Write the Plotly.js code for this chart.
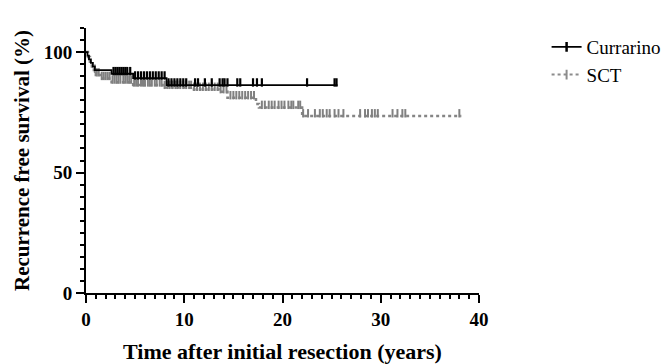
<!DOCTYPE html>
<html>
<head>
<meta charset="utf-8">
<script src="https://cdn.plot.ly/plotly-3.0.1.min.js"></script>
<style>html,body{margin:0;padding:0;background:#fff;}#chart{width:670px;height:364px;}</style>
</head>
<body>
<div id="chart"></div>
<script>
// Kaplan-Meier step curves (time in years, survival in %)
const currarinoTimes = [0, 0.15, 0.3, 0.5, 0.7, 0.9, 2.6, 4.8, 8.2, 25.6];
const currarinoSurv  = [100, 98.5, 97, 95.5, 94, 92.5, 91, 89.2, 86.3, 86.3];
const currarinoCensor = [2.8, 3.0, 3.2, 3.4, 3.6, 3.8, 4.0, 4.2, 4.5, 5.0, 5.3, 5.6, 5.9, 6.2, 6.5, 6.8, 7.1, 7.4, 7.7, 8.0,
  8.4, 8.7, 9.0, 9.3, 9.6, 9.9, 10.2, 11.1, 11.4, 12.1, 12.8, 13.6, 13.9, 14.1, 14.4, 15.4, 15.7, 17.0, 17.4, 17.9, 22.5, 25.3, 25.5];

const sctTimes = [0, 0.2, 0.4, 0.6, 0.8, 1.0, 1.5, 2.6, 4.8, 7.8, 10.8, 13.6, 14.4, 17.3, 17.6, 22.0, 38.2];
const sctSurv  = [100, 98, 96, 94, 92, 90.5, 89, 87.5, 86.3, 85.3, 84.5, 83.5, 81, 78.5, 77, 73.5, 73.5];
const sctCensor = [0.9, 1.1, 1.3, 1.6, 1.8, 2.0, 2.2, 2.4, 2.7, 2.9, 3.1, 3.3, 3.5, 3.8, 4.0, 4.2, 4.4, 4.6, 4.9, 5.1,
  5.3, 5.6, 5.8, 6.0, 6.3, 6.5, 6.7, 7.0, 7.2, 7.5, 7.7, 8.0, 8.3, 8.5, 8.8, 9.1, 9.3, 9.6, 9.9, 10.2, 10.5, 10.7,
  11.0, 11.3, 11.6, 11.9, 12.2, 12.5, 12.8, 13.1, 13.4, 13.7, 14.0, 14.3, 14.7, 15.0, 15.3, 15.6, 15.9, 16.2, 16.5,
  16.8, 17.1, 17.9, 18.2, 18.6, 18.9, 19.2, 19.6, 19.9, 20.2, 20.6, 20.9, 21.1, 21.6, 21.8,
  22.1, 22.6, 23.3, 23.8, 24.1, 24.5, 24.8, 25.3, 25.7, 26.2, 27.9, 28.4, 28.7, 29.1, 29.4, 29.7, 31.2, 31.7, 32.2, 32.5, 38.0];

const seriesNames = ['Currarino', 'SCT'];
const xTickVals = [0, 10, 20, 30, 40];
const yTickVals = [0, 50, 100];

function stepAt(times, surv, t) {
  let v = surv[0];
  for (let i = 0; i < times.length; i++) { if (times[i] <= t) v = surv[i]; }
  return v;
}
const tickLift = 1.1; // censor ticks sit on top of the curve
const font = 'Liberation Serif, Times New Roman, serif';

const traces = [
  {x: sctTimes, y: sctSurv, mode: 'lines', line: {shape: 'hv', color: '#858585', width: 2.5, dash: 'dot'}, showlegend: false, hoverinfo: 'skip'},
  {x: sctCensor, y: sctCensor.map(t => stepAt(sctTimes, sctSurv, t) + tickLift), mode: 'markers',
   marker: {symbol: 'line-ns-open', size: 6, color: '#808080', line: {color: '#808080', width: 2}}, showlegend: false, hoverinfo: 'skip'},
  {x: currarinoTimes, y: currarinoSurv, mode: 'lines', line: {shape: 'hv', color: '#000', width: 1.8}, showlegend: false, hoverinfo: 'skip'},
  {x: currarinoCensor, y: currarinoCensor.map(t => stepAt(currarinoTimes, currarinoSurv, t) + tickLift), mode: 'markers',
   marker: {symbol: 'line-ns-open', size: 6, color: '#000', line: {color: '#000', width: 2.2}}, showlegend: false, hoverinfo: 'skip'},
  {x: [null], y: [null], name: seriesNames[0], mode: 'lines+markers', line: {color: '#000', width: 1.8},
   marker: {symbol: 'line-ns-open', size: 7, line: {color: '#000', width: 2.5}}},
  {x: [null], y: [null], name: seriesNames[1], mode: 'lines+markers', line: {color: '#8c8c8c', width: 2, dash: 'dot'},
   marker: {symbol: 'line-ns-open', size: 7, line: {color: '#808080', width: 2}}}
];

const layout = {
  width: 670, height: 364,
  margin: {l: 86, r: 191, t: 28, b: 71, autoexpand: false},
  paper_bgcolor: '#fff', plot_bgcolor: '#fff',
  showlegend: true,
  legend: {x: 1.172, y: 1.0, xanchor: 'left', yanchor: 'top', font: {family: font, size: 19, color: '#000'},
           bgcolor: 'rgba(0,0,0,0)', tracegroupgap: 0, itemwidth: 30},
  xaxis: {
    range: [0, 40], tickvals: xTickVals, ticktext: xTickVals.map(v => '<b>' + v + '</b>'),
    showgrid: false, zeroline: false, showline: true, linecolor: '#000', linewidth: 2,
    ticks: 'outside', ticklen: 8, tickwidth: 2, tickcolor: '#000',
    minor: {dtick: 1, ticks: 'outside', ticklen: 4, tickwidth: 2, tickcolor: '#000', showgrid: false},
    tickfont: {family: font, size: 19, color: '#000'},
    title: {text: '<b>Time after initial resection (years)</b>', font: {family: font, size: 22, color: '#000'}, standoff: 15}
  },
  yaxis: {
    range: [0, 110], tickvals: yTickVals, ticktext: yTickVals.map(v => '<b>' + v + '</b>'),
    showgrid: false, zeroline: false, showline: true, linecolor: '#000', linewidth: 2,
    ticks: 'outside', ticklen: 8, tickwidth: 2, tickcolor: '#000',
    minor: {dtick: 5, ticks: 'outside', ticklen: 4, tickwidth: 2, tickcolor: '#000', showgrid: false},
    tickfont: {family: font, size: 19, color: '#000'},
    title: {text: '<b>Recurrence free survival (%)</b>', font: {family: font, size: 21, color: '#000'}, standoff: 8}
  }
};

Plotly.newPlot('chart', traces, layout, {displayModeBar: false, staticPlot: true});
</script>
</body>
</html>
